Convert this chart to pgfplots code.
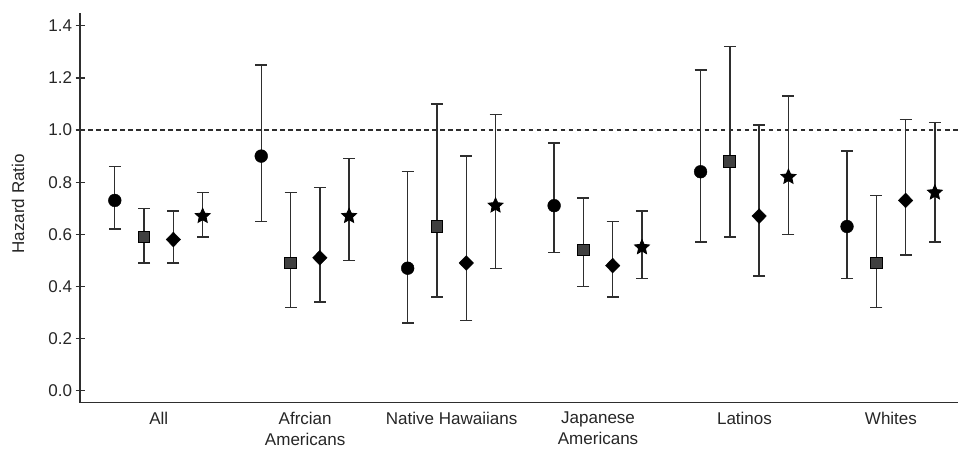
\documentclass[border=0pt]{standalone}
\usepackage{pgfplots}
\pgfplotsset{compat=1.18}
\usepackage{pgfplotstable}
\usepackage{fontspec}
\setmainfont{Liberation Sans}

\pgfdeclareplotmark{fstar}{%
  \pgfpathmoveto{\pgfpointpolar{90}{\pgfplotmarksize}}%
  \pgfpathlineto{\pgfpointpolar{126}{0.47\pgfplotmarksize}}%
  \pgfpathlineto{\pgfpointpolar{162}{\pgfplotmarksize}}%
  \pgfpathlineto{\pgfpointpolar{198}{0.47\pgfplotmarksize}}%
  \pgfpathlineto{\pgfpointpolar{234}{\pgfplotmarksize}}%
  \pgfpathlineto{\pgfpointpolar{270}{0.47\pgfplotmarksize}}%
  \pgfpathlineto{\pgfpointpolar{306}{\pgfplotmarksize}}%
  \pgfpathlineto{\pgfpointpolar{342}{0.47\pgfplotmarksize}}%
  \pgfpathlineto{\pgfpointpolar{18}{\pgfplotmarksize}}%
  \pgfpathlineto{\pgfpointpolar{54}{0.47\pgfplotmarksize}}%
  \pgfpathclose
  \pgfusepathqfillstroke
}

% x = group index + offset; y = hazard ratio; lo/hi = 95% CI
\pgfplotstableread{
x    y    lo   hi
-0.3 0.73 0.62 0.86
0.7  0.90 0.65 1.25
1.7  0.47 0.26 0.84
2.7  0.71 0.53 0.95
3.7  0.84 0.57 1.23
4.7  0.63 0.43 0.92
}\circledata
\pgfplotstableread{
x    y    lo   hi
-0.1 0.59 0.49 0.70
0.9  0.49 0.32 0.76
1.9  0.63 0.36 1.10
2.9  0.54 0.40 0.74
3.9  0.88 0.59 1.32
4.9  0.49 0.32 0.75
}\squaredata
\pgfplotstableread{
x    y    lo   hi
0.1  0.58 0.49 0.69
1.1  0.51 0.34 0.78
2.1  0.49 0.27 0.90
3.1  0.48 0.36 0.65
4.1  0.67 0.44 1.02
5.1  0.73 0.52 1.04
}\diamonddata
\pgfplotstableread{
x    y    lo   hi
0.3  0.67 0.59 0.76
1.3  0.67 0.50 0.89
2.3  0.71 0.47 1.06
3.3  0.55 0.43 0.69
4.3  0.82 0.60 1.13
5.3  0.76 0.57 1.03
}\stardata

\definecolor{axgray}{HTML}{2E2E2E}
\definecolor{sqfill}{HTML}{404040}

\begin{document}
\begin{tikzpicture}
\path[use as bounding box] (-80pt,-48.7pt) rectangle (877pt,402.3pt);
\begin{axis}[
  at={(0pt,0pt)}, anchor=south west,
  scale only axis,
  width=877pt, height=389.6pt,
  xmin=-0.537, xmax=5.458,
  ymin=-0.046, ymax=1.45,
  axis x line=bottom, axis y line=left,
  axis line style={-, axgray, line width=1.3pt},
  ytick={0,0.2,...,1.4},
  yticklabel style={/pgf/number format/fixed, /pgf/number format/fixed zerofill, /pgf/number format/precision=1},
  /pgf/number format/assume math mode=true,
  tick style={axgray, line width=1.3pt},
  major tick length=9pt,
  y tick label style={font=\fontsize{17}{20}\selectfont, color=black!85},
  xtick={0,1,2,3,4,5},
  xticklabels={All, Afrcian\\Americans, Native Hawaiians, Japanese\\Americans, Latinos, Whites},
  x tick label style={font=\fontsize{17}{21}\selectfont, align=center, color=black!85, yshift=-1pt},
  x tick style={draw=none},
  ylabel={Hazard Ratio},
  ylabel style={at={(axis description cs:-0.0707,0.51)}, anchor=center, font=\fontsize{17}{20}\selectfont, color=black!85},
  clip=false,
  error bars/y dir=both,
  error bars/y explicit,
  error bars/error bar style={axgray, line width=1.4pt},
  error bars/error mark options={rotate=90, mark size=6pt, axgray, line width=1.4pt},
]
\addplot[dash pattern=on 4.5pt off 3.5pt, axgray, line width=1.2pt, forget plot] coordinates {(-0.537,1) (5.458,1)};

\addplot[only marks, mark=*, mark size=6.4pt, mark options={black, fill=black}]
  table[x=x, y=y, y error plus expr=\thisrow{hi}-\thisrow{y}, y error minus expr=\thisrow{y}-\thisrow{lo}] {\circledata};
\addplot[only marks, mark=square*, mark size=5.9pt, mark options={draw=black, fill=sqfill, line width=1pt}]
  table[x=x, y=y, y error plus expr=\thisrow{hi}-\thisrow{y}, y error minus expr=\thisrow{y}-\thisrow{lo}] {\squaredata};
\addplot[only marks, mark=diamond*, mark size=7.4pt, mark options={black, fill=black, xscale=1.3}]
  table[x=x, y=y, y error plus expr=\thisrow{hi}-\thisrow{y}, y error minus expr=\thisrow{y}-\thisrow{lo}] {\diamonddata};
\addplot[only marks, mark=fstar, mark size=7.8pt, mark options={black, fill=black, line width=0.8pt}]
  table[x=x, y=y, y error plus expr=\thisrow{hi}-\thisrow{y}, y error minus expr=\thisrow{y}-\thisrow{lo}] {\stardata};
\end{axis}
\end{tikzpicture}
\end{document}
